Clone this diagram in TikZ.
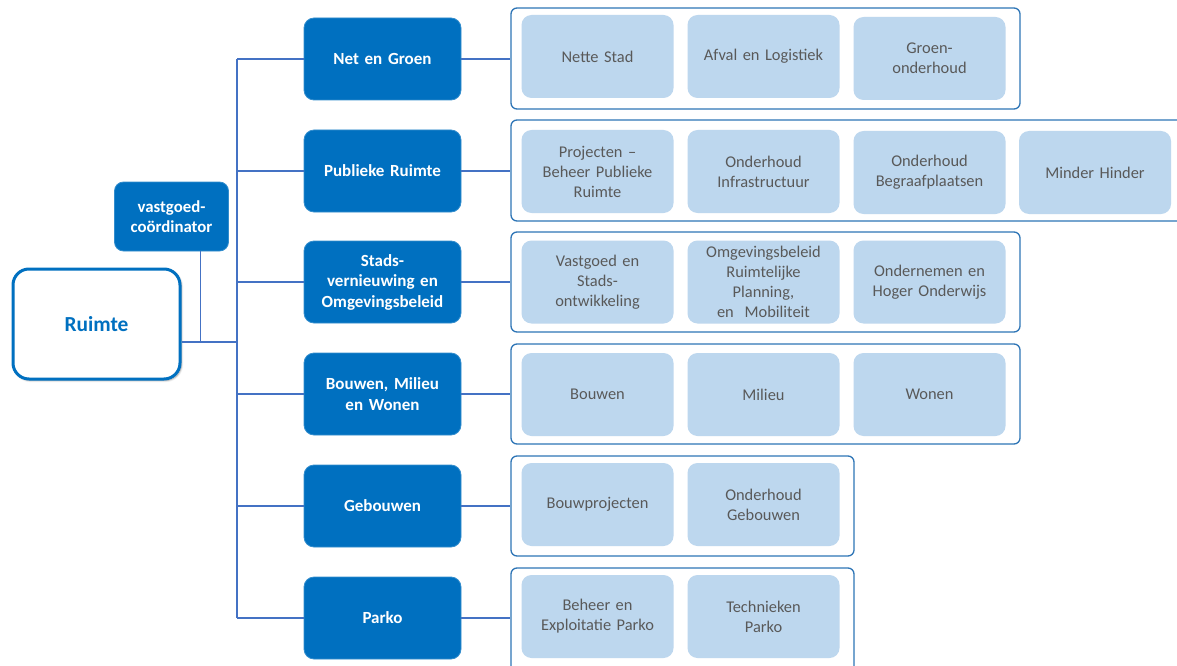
\documentclass[tikz,border=0pt]{standalone}
\usepackage{fontspec}
\setmainfont{Carlito}
\usetikzlibrary{shadows.blur}
\definecolor{dblue}{HTML}{0070C0}
\definecolor{lblue}{HTML}{BDD7EE}
\definecolor{gbord}{HTML}{2E75B6}
\definecolor{lnc}{HTML}{4472C4}
\definecolor{gtext}{HTML}{595959}
\tikzset{
  lvl/.style={fill=dblue, draw=dblue!80!white, line width=0.8pt, rounded corners=10pt, minimum width=157pt, minimum height=82pt, inner sep=2pt, text=white, font=\fontsize{17}{20.5}\selectfont\bfseries, align=center, text width=152pt},
  sub/.style={fill=lblue, draw=none, rounded corners=10pt, minimum width=151pt, minimum height=83pt, inner sep=2pt, text=gtext, font=\fontsize{16.4}{20}\selectfont, align=center, text width=148pt},
  grp/.style={draw=gbord, line width=1.3pt, fill=white, rounded corners=6pt, inner sep=0pt},
  conn/.style={draw=lnc, line width=1.1pt},
}
\begin{document}
\begin{tikzpicture}[x=1pt,y=-1pt]
\useasboundingbox (0,0) rectangle (1177,666);
% root
\node[draw=dblue, line width=3pt, fill=white, rounded corners=16pt, minimum width=167pt, minimum height=110pt, text=dblue, font=\fontsize{21.4}{25}\selectfont\bfseries, blur shadow={shadow blur steps=6, shadow xshift=1.5pt, shadow yshift=-1.5pt, shadow opacity=40}] (ruimte) at (96.5,324) {Ruimte};
\node[lvl, minimum width=113pt, minimum height=69pt, text width=110pt, rounded corners=9pt, font=\fontsize{16.8}{20.5}\selectfont\bfseries] (vg) at (171.5,216.5) {vastgoed-\\coördinator};
% group frames
\node[grp, minimum width=509pt, minimum height=101pt] (g1) at (765.5,58.5) {};
\node[grp, minimum width=680pt, minimum height=101pt] (g2) at (851,170.5) {};
\node[grp, minimum width=509pt, minimum height=100pt] (g3) at (765.5,282) {};
\node[grp, minimum width=509pt, minimum height=100pt] (g4) at (765.5,394) {};
\node[grp, minimum width=343pt, minimum height=100pt] (g5) at (682.5,506) {};
\node[grp, minimum width=343pt, minimum height=112pt] (g6) at (682.5,624) {};
% level 2
\node[lvl] (l1) at (382.5,59) {Net en Groen};
\node[lvl] (l2) at (382.5,171) {Publieke Ruimte};
\node[lvl] (l3) at (382.5,282) {Stads-\\vernieuwing en\\Omgevingsbeleid};
\node[lvl] (l4) at (382.5,394) {Bouwen, Milieu\\en Wonen};
\node[lvl] (l5) at (382.5,506) {Gebouwen};
\node[lvl] (l6) at (382.5,618) {Parko};
% sub units
\node[sub] (s11) at (597.5,56.5) {Nette Stad};
\node[sub] (s12) at (763.5,56.5) {Afval en Logistiek};
\node[sub] (s13) at (929.5,58.5) {Groen-\\onderhoud};
\node[sub] (s21) at (597.5,171.5) {Projecten –\\Beheer Publieke\\Ruimte};
\node[sub] (s22) at (763.5,171.5) {Onderhoud\\Infrastructuur};
\node[sub] (s23) at (929.5,172.5) {Onderhoud\\Begraafplaatsen};
\node[sub] (s24) at (1095,172.5) {Minder Hinder};
\node[sub] (s31) at (597.5,282) {Vastgoed en\\Stads-\\ontwikkeling};
\node[sub] (s32) at (763.5,282) {Omgevingsbeleid\\Ruimtelijke\\Planning,\\en~~Mobiliteit};
\node[sub] (s33) at (929.5,282) {Ondernemen en\\Hoger Onderwijs};
\node[sub] (s41) at (597.5,394.5) {Bouwen};
\node[sub] (s42) at (763.5,394.5) {Milieu};
\node[sub] (s43) at (929.5,394.5) {Wonen};
\node[sub] (s51) at (597.5,504.5) {Bouwprojecten};
\node[sub] (s52) at (763.5,504.5) {Onderhoud\\Gebouwen};
\node[sub] (s61) at (597.5,616.5) {Beheer en\\Exploitatie Parko};
\node[sub] (s62) at (763.5,616.5) {Technieken\\Parko};
% connectors
\coordinate (j) at (237,342);
\draw[conn] (ruimte.east |- j) -- (j);
\draw[conn] ([xshift=29pt]vg.south) -- ([xshift=29pt]vg.south |- j);
\draw[conn] (l1.west -| j) -- (l6.west -| j);
\foreach \i in {1,...,6}{
  \draw[conn] (l\i.west -| j) -- (l\i.west);
  \draw[conn] (l\i.east) -- (l\i.east -| g\i.west);
}
\end{tikzpicture}
\end{document}
